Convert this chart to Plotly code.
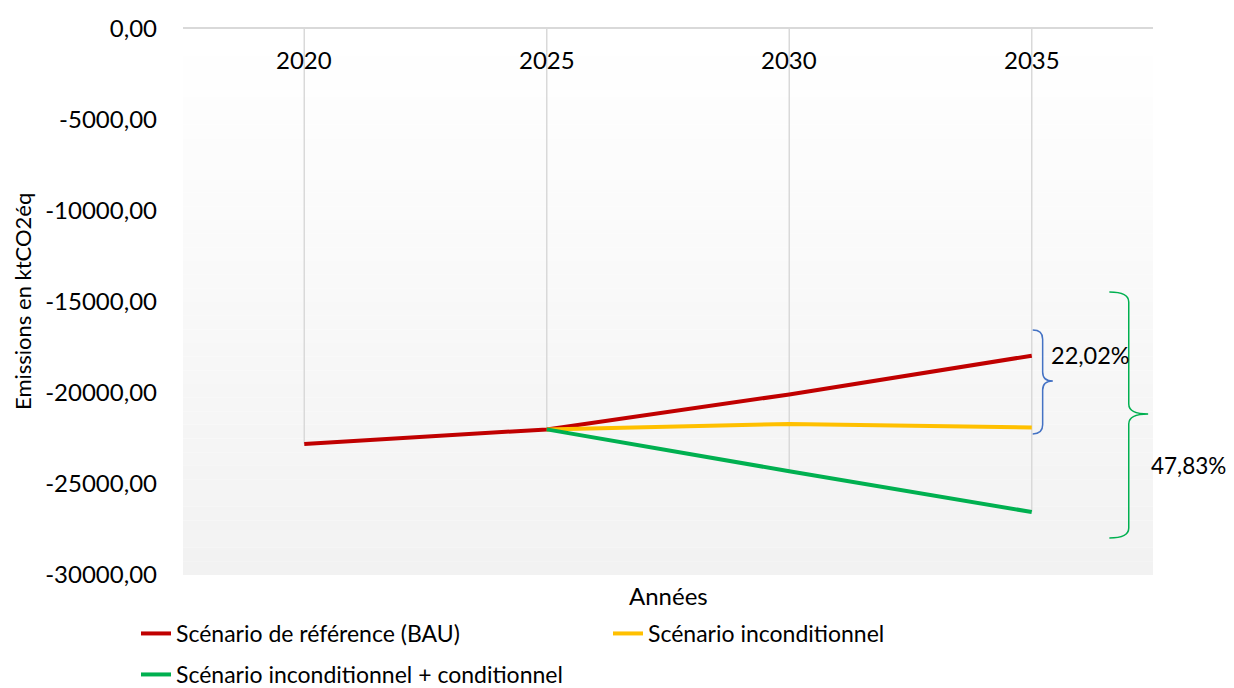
import plotly.graph_objects as go

years = ["2020", "2025", "2030", "2035"]
bau = [-22800, -22000, -20080, -17950]
uncond = [None, -22000, -21700, -21900]
cond = [None, -22000, -24300, -26540]
y_ticks = [0, -5000, -10000, -15000, -20000, -25000, -30000]
pct_labels = ["22,02%", "47,83%"]

FONT = "Lato"
xpos = list(range(len(years)))

# the page body adds an 8px offset; figure is sized so the plot lands where the reference has it
OFF = 8
W, H = 1234 - OFF, 688 - OFF
L, T, PW, PH = 183 - OFF, 29 - OFF, 970, 546

fig = go.Figure()

# gradient background bands
n = 40
ymin, ymax = -30000, 0
for i in range(n):
    y0 = ymax + (ymin - ymax) * i / n
    y1 = ymax + (ymin - ymax) * (i + 1) / n
    g = round(255 - (255 - 242) * (i + 0.5) / n)
    fig.add_shape(type="rect", xref="paper", yref="y", x0=0, x1=1, y0=y0, y1=y1,
                  fillcolor=f"rgb({g},{g},{g})", line_width=0, layer="below")

# drop lines
dx, dy = [], []
for i in xpos:
    vals = [v for v in (bau[i], uncond[i], cond[i]) if v is not None]
    dx += [i, i, None]
    dy += [0, min(vals), None]
fig.add_trace(go.Scatter(x=dx, y=dy, mode="lines", line=dict(color="#d9d9d9", width=1.5),
                         showlegend=False, hoverinfo="skip"))

fig.add_trace(go.Scatter(x=xpos, y=bau, mode="lines", name="Scénario de référence (BAU)",
                         line=dict(color="#C00000", width=4), legend="legend"))
fig.add_trace(go.Scatter(x=xpos, y=uncond, mode="lines", name="Scénario inconditionnel",
                         line=dict(color="#FFC000", width=4), legend="legend"))
fig.add_trace(go.Scatter(x=xpos, y=cond, mode="lines", name="Scénario inconditionnel + conditionnel",
                         line=dict(color="#00B050", width=4), legend="legend2"))


def brace(x0, xs, xt, ytop, ybot, ymid, r):
    return (f"M {x0},{ytop} Q {xs},{ytop} {xs},{ytop - r} "
            f"L {xs},{ymid + r} Q {xs},{ymid} {xt},{ymid} "
            f"Q {xs},{ymid} {xs},{ymid - r} "
            f"L {xs},{ybot + r} Q {xs},{ybot} {x0},{ybot}")


fig.add_shape(type="path", xref="x", yref="y",
              path=brace(3.004, 3.045, 3.087, -16540, -22250, -19340, 500),
              line=dict(color="#4472C4", width=1.5))
fig.add_shape(type="path", xref="x", yref="y",
              path=brace(3.32, 3.40, 3.48, -14450, -27970, -21150, 550),
              line=dict(color="#00B050", width=1.5))

fig.add_annotation(x=3.07, y=-17900, xref="x", yref="y", text=pct_labels[0], showarrow=False,
                   xanchor="left", yanchor="middle", font=dict(family=FONT, size=23.5, color="#000"))
fig.add_annotation(x=3.485, y=-24010, xref="x", yref="y", text=pct_labels[1], showarrow=False,
                   xanchor="left", yanchor="middle", font=dict(family=FONT, size=22.5, color="#000"))

# category labels (axis crosses at 0, labels sit just below it)
for i, yr in zip(xpos, years):
    fig.add_annotation(x=i, y=0, xref="x", yref="y", yshift=-30, text=yr, showarrow=False,
                       xanchor="center", yanchor="middle",
                       font=dict(family=FONT, size=24, color="#000"))

fig.add_annotation(x=0.5, y=0, xref="paper", yref="paper", yshift=-20, text="Années",
                   showarrow=False, xanchor="center", yanchor="middle",
                   font=dict(family=FONT, size=24, color="#000"))
fig.add_annotation(x=(22 - 183) / PW, y=0.5, xref="paper", yref="paper", text="Emissions en ktCO2éq",
                   textangle=-90, showarrow=False, xanchor="center", yanchor="middle",
                   font=dict(family=FONT, size=22, color="#000"))

fig.update_layout(
    width=W, height=H,
    margin=dict(l=L, r=W - L - PW, t=T, b=H - T - PH),
    paper_bgcolor="white", plot_bgcolor="white",
    font=dict(family=FONT, size=20, color="#000"),
    xaxis=dict(range=[-0.5, 3.5], tickvals=xpos, showticklabels=False, side="top",
               ticks="", showgrid=False, zeroline=False, automargin=False,
               showline=True, linecolor="#d9d9d9", linewidth=2),
    yaxis=dict(range=[-30000, 0], tickvals=y_ticks,
               ticktext=[f"{v:.2f}".replace(".", ",") for v in y_ticks],
               showgrid=False, zeroline=False, showline=False, ticks="", automargin=False,
               tickfont=dict(family=FONT, size=24, color="#000"), ticklabelstandoff=25),
    legend=dict(orientation="h", xref="container", yref="container",
                x=(136 - OFF) / W, y=1 - (612 - OFF) / H,
                xanchor="left", yanchor="top", entrywidth=427, entrywidthmode="pixels",
                font=dict(family=FONT, size=23, color="#000"), bgcolor="rgba(0,0,0,0)"),
    legend2=dict(orientation="h", xref="container", yref="container",
                 x=(136 - OFF) / W, y=1 - (653 - OFF) / H,
                 xanchor="left", yanchor="top",
                 font=dict(family=FONT, size=23, color="#000"), bgcolor="rgba(0,0,0,0)"),
)

fig.write_html("out.html")
